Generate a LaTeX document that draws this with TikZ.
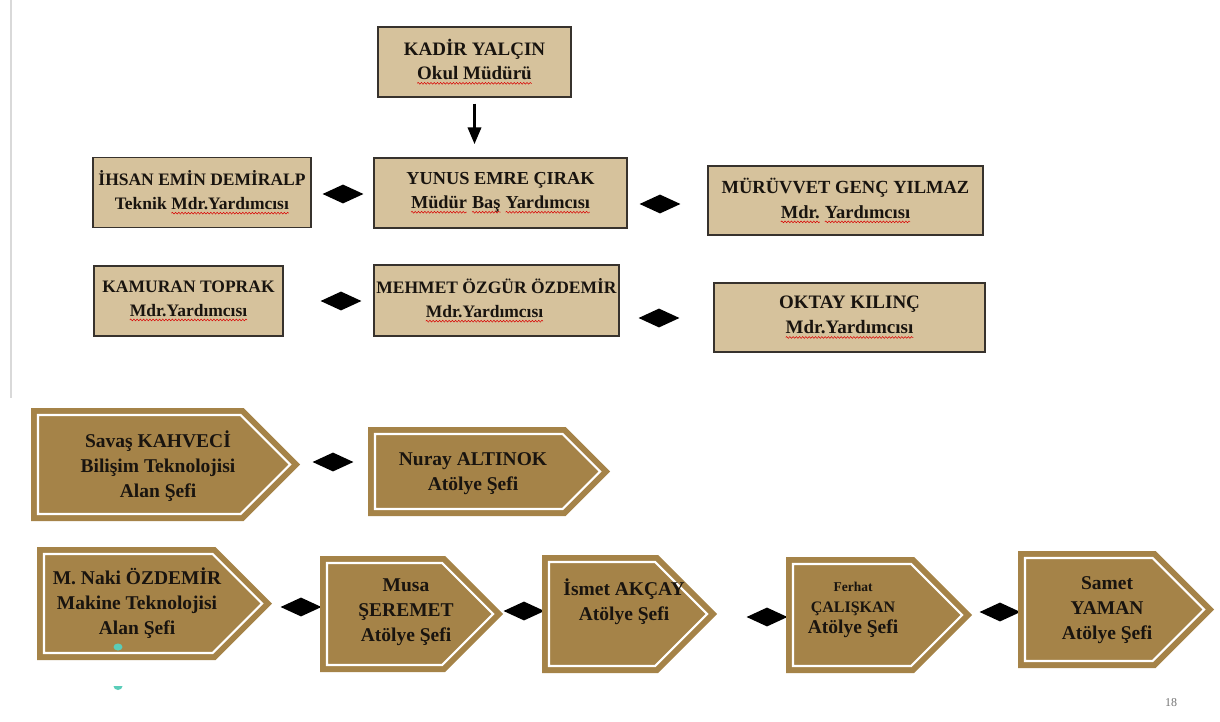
\documentclass[tikz,border=0pt]{standalone}
\usepackage{fontspec}
\setmainfont{Liberation Serif}
\usetikzlibrary{shapes.geometric,arrows.meta,decorations.pathmorphing}
\definecolor{boxtan}{RGB}{214,194,156}
\definecolor{plategold}{RGB}{165,131,72}
\definecolor{boxedge}{RGB}{55,50,45}
\definecolor{ink}{RGB}{25,20,15}
\definecolor{dotteal}{RGB}{90,205,185}
\newcommand\rw[1]{\tikz[baseline=(w.base)]{\node[draw=none,fill=none,minimum width=0pt,minimum height=0pt,inner sep=0pt,outer sep=0pt,anchor=base] (w) {#1};
  \draw[red!85!black,line width=0.5pt,decorate,decoration={snake,amplitude=0.9pt,segment length=3.2pt}] ([yshift=-3.5pt]w.base west) -- ([yshift=-3.5pt]w.base east);}}
% plate: #1 x1, #2 y1, #3 x2, #4 y2
\newcommand\plate[4]{%
  \pgfmathsetmacro\plM{(#2+#4)/2}%
  \pgfmathsetmacro\plF{#3-(#4-#2)/2}%
  \pgfmathsetmacro\plFi{\plF-0.414*7}%
  \pgfmathsetmacro\plTi{#3-1.414*7}%
  \fill[plategold] (#1,#2) -- (\plF,#2) -- (#3,\plM) -- (\plF,#4) -- (#1,#4) -- cycle;
  \draw[white,line width=2.2pt,line join=miter] (#1+7,#2+7) -- (\plFi,#2+7) -- (\plTi,\plM) -- (\plFi,#4-7) -- (#1+7,#4-7) -- cycle;
}
\begin{document}
\begin{tikzpicture}[x=1pt,y=-1pt,
  rbox/.style={draw=boxedge,line width=1.3pt,fill=boxtan,inner sep=0pt,text=ink,align=center,
    font=\fontsize{17.5}{24}\selectfont\bfseries},
  ptext/.style={text=ink,align=center,inner sep=0pt,font=\fontsize{19.5}{25}\selectfont\bfseries},
  dia/.style={diamond,fill=black,aspect=2.2,minimum width=41pt,minimum height=19pt,inner sep=0pt},
  tealdot/.style={fill=dotteal}]
\useasboundingbox (0,0) rectangle (1220,722);
\fill[white] (0,0) rectangle (1220,722);
\draw[black!15,line width=1.5pt] (11,0) -- (11,398);

% top boxes
\node[rbox,minimum width=193pt,minimum height=70pt,font=\fontsize{19}{24}\selectfont\bfseries] (kadir) at (474.5,62) {KADİR YALÇIN\\\rw{Okul Müdürü}};
\node[rbox,minimum width=253pt,minimum height=70pt,font=\fontsize{18.3}{24}\selectfont\bfseries] (yunus) at (500.5,193) {YUNUS EMRE ÇIRAK\\\rw{Müdür} \rw{Baş} \rw{Yardımcısı}};
\node[rbox,minimum width=218pt,minimum height=70pt] (ihsan) at (202,192.5) {İHSAN EMİN DEMİRALP\\Teknik \rw{Mdr.Yardımcısı}};
\node[rbox,minimum width=275pt,minimum height=69pt,font=\fontsize{18.5}{25}\selectfont\bfseries] (muruvvet) at (845.5,200.5) {MÜRÜVVET GENÇ YILMAZ\\\rw{Mdr.} \rw{Yardımcısı}};
\node[rbox,minimum width=189pt,minimum height=70pt] (kamuran) at (188.5,301) {KAMURAN TOPRAK\\\rw{Mdr.Yardımcısı}};
\node[rbox,minimum width=245pt,minimum height=71pt] (mehmet) at (496.5,300.5) {MEHMET ÖZGÜR ÖZDEMİR\\\rw{Mdr.Yardımcısı}\hspace*{24pt}};
\node[rbox,minimum width=271pt,minimum height=69pt,font=\fontsize{19}{25}\selectfont\bfseries] (oktay) at (849.5,317.5) {OKTAY KILINÇ\\\rw{Mdr.Yardımcısı}};

\draw[line width=3.5pt,-{Triangle[length=17pt,width=13pt]}] ([yshift=-6pt]kadir.south) -- ([yshift=13pt]kadir.south |- yunus.north);

% diamonds
\node[dia] (d1) at (343,194) {};
\node[dia] (d2) at (660,204) {};
\node[dia] (d3) at (341,301) {};
\node[dia] (d4) at (659,318) {};
\node[dia] (d5) at (333,462) {};
\node[dia] (d6) at (301,607) {};
\node[dia] (d7) at (524,611) {};
\node[dia] (d8) at (767,617) {};
\node[dia] (d9) at (1000,612) {};

% plates
\plate{31}{408}{300}{521}
\plate{368}{427}{610}{516}
\plate{37}{547}{272}{660}
\plate{320}{556}{503}{672}
\plate{542}{555}{717}{673}
\plate{786}{557}{972}{673}
\plate{1018}{551}{1214}{668}

\node[ptext] (savas) at (158,466) {Savaş KAHVECİ\\Bilişim Teknolojisi\\Alan Şefi};
\node[ptext] (nuray) at (473,474) {Nuray ALTINOK\\Atölye Şefi};
\node[ptext] (naki) at (137,603) {M. Naki ÖZDEMİR\\Makine Teknolojisi\\Alan Şefi};
\node[ptext] (musa) at (406,612) {Musa\\ŞEREMET\\Atölye Şefi};
\node[ptext] (ismet) at (624,602) {İsmet AKÇAY\\Atölye Şefi};
\node[ptext,font=\fontsize{19.5}{21}\selectfont\bfseries] (ferhat) at (853,610) {{\fontsize{13.5}{16}\selectfont Ferhat}\\{\fontsize{16}{19}\selectfont ÇALIŞKAN}\\Atölye Şefi};
\node[ptext] (samet) at (1107,610) {Samet\\YAMAN\\Atölye Şefi};

% small teal marks
\fill[tealdot] (118,647) ellipse (4.5pt and 3.5pt);
\fill[tealdot] (113.5,686) arc (180:360:4.5pt and 4pt) -- cycle;

\node[text=black!55,font=\fontsize{12}{14}\selectfont,inner sep=0pt] (pagenum) at (1171,703) {18};
\end{tikzpicture}
\end{document}
